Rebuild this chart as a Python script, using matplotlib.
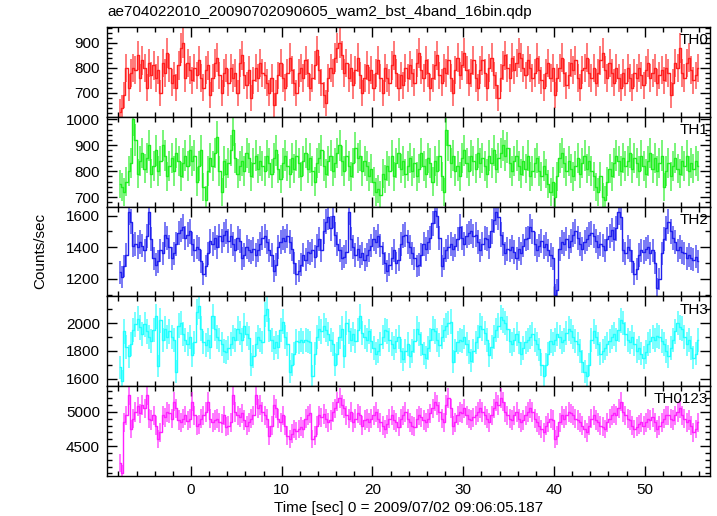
import numpy as np
import matplotlib
matplotlib.use('Agg')
import matplotlib.pyplot as plt
from matplotlib.ticker import MultipleLocator

plt.rcParams['font.family'] = ['Liberation Sans', 'DejaVu Sans']
plt.rcParams['font.size'] = 11

title = 'ae704022010_20090702090605_wam2_bst_4band_16bin.qdp'
xlabel = 'Time [sec] 0 = 2009/07/02 09:06:05.187'
t_start = -7.875   # centre of first bin (s)
bin_width = 0.25   # s

# count rates (counts/sec), 0.25 s bins
th0 = [
    625, 640, 690, 800, 720, 780, 800, 790, 850, 760, 830, 800, 720, 820, 770, 810,
    760, 790, 700, 820, 780, 860, 800, 740, 770, 720, 810, 880, 900, 760, 820, 790,
    750, 800, 770, 830, 760, 720, 790, 810, 690, 760, 820, 840, 770, 700, 780, 800,
    740, 800, 760, 780, 700, 820, 850, 770, 730, 790, 680, 750, 800, 760, 820, 780,
    770, 740, 700, 760, 650, 700, 770, 820, 760, 720, 780, 840, 790, 740, 700, 780,
    800, 760, 830, 780, 720, 760, 810, 870, 790, 740, 690, 660, 760, 800, 780, 840,
    880, 900, 850, 780, 820, 760, 800, 730, 790, 840, 770, 700, 760, 810, 750, 790,
    720, 780, 830, 760, 700, 800, 760, 740, 810, 850, 780, 720, 770, 730, 800, 760,
    810, 780, 740, 820, 860, 790, 760, 830, 780, 720, 760, 810, 850, 770, 740, 800,
    780, 830, 760, 700, 790, 840, 770, 810, 860, 790, 740, 780, 830, 760, 720, 790,
    830, 780, 720, 800, 840, 770, 730, 680, 760, 810, 850, 800, 760, 840, 790, 820,
    860, 840, 800, 770, 830, 800, 760, 780, 840, 790, 750, 720, 780, 820, 760, 800,
    690, 760, 800, 840, 780, 730, 770, 820, 790, 830, 760, 720, 790, 800, 840, 780,
    760, 800, 740, 780, 830, 860, 790, 760, 820, 780, 740, 800, 760, 720, 780, 740,
    800, 760, 720, 780, 760, 800, 770, 730, 790, 820, 760, 780, 800, 740, 770, 790,
    750, 800, 780, 690, 740, 820, 800, 880, 780, 760, 820, 840, 790, 750, 770, 800,
]
th1 = [
    750, 740, 720, 760, 800, 830, 1000, 920, 790, 840, 870, 810, 850, 900, 790, 820,
    880, 800, 840, 900, 860, 780, 820, 850, 800, 870, 840, 780, 830, 860, 820, 880,
    840, 860, 760, 820, 880, 740, 690, 800, 850, 820, 870, 930, 800, 720, 840, 790,
    830, 880, 960, 850, 790, 820, 840, 800, 870, 850, 780, 830, 860, 810, 840, 820,
    800, 860, 830, 790, 850, 880, 810, 770, 830, 860, 820, 790, 850, 810, 860, 830,
    780, 840, 870, 810, 850, 800, 760, 830, 850, 880, 820, 790, 840, 860, 800, 830,
    870, 900, 840, 800, 860, 820, 780, 830, 890, 850, 860, 800, 840, 820, 780, 810,
    760, 720, 730, 710, 790, 770, 820, 800, 860, 780, 830, 870, 810, 840, 790, 820,
    850, 800, 830, 780, 810, 870, 820, 790, 850, 830, 760, 840, 800, 860, 780, 720,
    960, 900, 830, 860, 800, 820, 780, 850, 880, 830, 800, 860, 840, 810, 870, 830,
    850, 820, 790, 860, 830, 880, 810, 850, 870, 900, 860, 890, 830, 800, 840, 860,
    820, 790, 840, 810, 860, 780, 800, 830, 850, 800, 780, 820, 790, 750, 720, 760,
    700, 780, 850, 870, 830, 800, 840, 810, 780, 820, 850, 790, 830, 860, 810, 840,
    800, 780, 740, 720, 780, 700, 690, 760, 810, 780, 830, 860, 840, 800, 850, 820,
    840, 870, 810, 850, 830, 800, 860, 820, 790, 840, 870, 810, 850, 800, 830, 860,
    740, 800, 830, 780, 820, 850, 810, 790, 840, 820, 860, 800, 830, 810, 840, 820,
]
th2 = [
    1240, 1210, 1280, 1350, 1620, 1560, 1410, 1420, 1400, 1430, 1410, 1380, 1470, 1620, 1450, 1330,
    1290, 1310, 1380, 1360, 1480, 1460, 1400, 1330, 1360, 1420, 1490, 1510, 1530, 1460, 1480, 1500,
    1420, 1380, 1400, 1390, 1310, 1230, 1280, 1360, 1440, 1420, 1460, 1400, 1470, 1440, 1480, 1500,
    1440, 1470, 1420, 1380, 1460, 1440, 1330, 1350, 1400, 1380, 1370, 1390, 1350, 1380, 1420, 1460,
    1470, 1430, 1380, 1350, 1250, 1290, 1400, 1430, 1460, 1440, 1470, 1430, 1390, 1300, 1230, 1250,
    1290, 1350, 1320, 1370, 1360, 1380, 1340, 1410, 1450, 1380, 1500, 1560, 1590, 1520, 1600, 1480,
    1420, 1380, 1330, 1340, 1370, 1620, 1450, 1400, 1350, 1390, 1340, 1360, 1320, 1350, 1380, 1410,
    1450, 1430, 1470, 1410, 1360, 1300, 1250, 1290, 1330, 1380, 1300, 1320, 1420, 1470, 1480, 1430,
    1400, 1360, 1330, 1280, 1290, 1350, 1420, 1390, 1430, 1460, 1550, 1630, 1600, 1460, 1280, 1330,
    1380, 1400, 1420, 1390, 1410, 1450, 1530, 1460, 1420, 1470, 1490, 1500, 1470, 1480, 1430, 1380,
    1420, 1460, 1450, 1400, 1500, 1570, 1620, 1590, 1480, 1420, 1360, 1390, 1380, 1400, 1370, 1330,
    1390, 1360, 1410, 1450, 1460, 1530, 1500, 1420, 1380, 1410, 1440, 1400, 1420, 1380, 1350, 1330,
    1100, 1130, 1390, 1430, 1420, 1450, 1400, 1440, 1480, 1500, 1460, 1420, 1390, 1430, 1450, 1480,
    1490, 1470, 1440, 1400, 1420, 1410, 1380, 1450, 1470, 1510, 1450, 1520, 1620, 1590, 1380, 1360,
    1400, 1380, 1310, 1230, 1260, 1350, 1380, 1370, 1390, 1400, 1360, 1380, 1300, 1140, 1200, 1360,
    1450, 1520, 1560, 1500, 1460, 1430, 1380, 1400, 1370, 1360, 1330, 1350, 1330, 1320, 1340, 1310,
]
th3 = [
    1680, 1580, 1940, 1830, 1760, 1850, 1950, 1990, 2030, 1970, 1920, 1990, 1940, 1900, 1870, 1950,
    2050, 1690, 2020, 1880, 1960, 1900, 1940, 1900, 1880, 1650, 1980, 2000, 1920, 1880, 1850, 1900,
    1770, 1860, 2080, 2120, 1960, 1860, 1840, 1880, 1830, 2050, 1960, 1900, 1880, 1850, 1800, 1790,
    1820, 1850, 1900, 1880, 1960, 1930, 1880, 1980, 1920, 1890, 1700, 1760, 1850, 1900, 1880, 1860,
    2060, 2100, 1950, 1880, 1820, 1860, 1830, 1950, 2010, 1900, 1850, 1650, 1700, 1780, 1870, 1860,
    1880, 1860, 1880, 1870, 1860, 1620, 1780, 1900, 1960, 1940, 1980, 1950, 1920, 1880, 1850, 1700,
    1780, 1900, 1960, 1760, 2000, 1940, 1880, 1920, 1870, 1950, 2050, 1930, 1900, 1880, 1940, 1870,
    1820, 1780, 1800, 1850, 1900, 1950, 1940, 1880, 1850, 1820, 1870, 1900, 1800, 1740, 1800, 1850,
    1760, 1800, 1870, 1960, 1920, 1850, 1780, 1750, 1820, 1880, 1960, 1940, 1880, 1840, 1900, 1950,
    1980, 2000, 2010, 1720, 1800, 1860, 1880, 1870, 1900, 1850, 1790, 1730, 1800, 1860, 1900, 1980,
    1960, 1930, 1880, 1770, 1830, 1900, 1950, 1980, 2040, 2020, 2000, 1960, 1870, 1850, 1880, 1920,
    1860, 1780, 1820, 1860, 1880, 1900, 1920, 1880, 1850, 1810, 1700, 1620, 1700, 1780, 1870, 1850,
    1880, 1920, 1900, 1860, 1880, 1930, 1960, 1940, 1900, 1870, 1850, 1800, 1720, 1650, 1620, 1700,
    1880, 1940, 1900, 1850, 1780, 1800, 1820, 1850, 1870, 1900, 1920, 1880, 1950, 2020, 2000, 1920,
    1880, 1860, 1900, 1850, 1800, 1820, 1780, 1750, 1790, 1850, 1870, 1900, 1880, 1910, 1900, 1870,
    1850, 1800, 1760, 1820, 1880, 1940, 2000, 1970, 1960, 1900, 1850, 1880, 1820, 1750, 1780, 1880,
]
th0123 = [
    4250, 4100, 4850, 4950, 5240, 4750, 4900, 5000, 5080, 4980, 5100, 5050, 5250, 4900, 4880, 4950,
    4800, 4600, 4700, 4950, 4920, 5000, 4980, 4900, 5150, 5050, 4880, 4850, 4900, 4950, 4870, 4900,
    5150, 4950, 4800, 4820, 4900, 4950, 5000, 5150, 4900, 4850, 4880, 4900, 4850, 4830, 4950, 4780,
    4800, 4850, 5250, 5000, 4950, 4920, 4980, 4880, 4800, 4850, 4900, 4950, 5250, 5050, 5100, 5000,
    4950, 4900, 4650, 4800, 5100, 5050, 4900, 4850, 4950, 4800, 4650, 4600, 4680, 4750, 4720, 4750,
    4780, 4750, 4900, 4950, 4980, 4600, 4650, 4800, 4950, 4920, 4970, 4900, 4850, 4880, 5000, 5050,
    5150, 5200, 5100, 5050, 4950, 4900, 5000, 4850, 4900, 4980, 4950, 4800, 4880, 4900, 4850, 4900,
    4950, 5000, 4900, 4850, 4800, 4750, 4820, 4900, 4950, 4880, 4850, 4780, 4900, 4950, 5000, 4900,
    4850, 4800, 4780, 4900, 4950, 4920, 4880, 4850, 4900, 4980, 5050, 5150, 5100, 5000, 4900, 4850,
    5100, 5200, 5050, 4800, 4850, 4950, 5000, 4980, 5050, 4950, 4900, 4880, 4920, 4950, 5000, 5050,
    5000, 4950, 4900, 4850, 4950, 5050, 5150, 5100, 5200, 5150, 5000, 4950, 4900, 4880, 4950, 5000,
    4900, 4850, 4880, 4950, 5000, 5050, 5000, 4900, 4850, 4800, 4750, 4700, 4800, 4850, 4900, 4880,
    4600, 4650, 4850, 4950, 4900, 4950, 5000, 4980, 4950, 4900, 4880, 4850, 4800, 4750, 4700, 4800,
    4900, 4950, 4880, 4850, 4800, 4780, 4750, 4850, 4900, 4950, 4980, 4950, 5050, 5150, 5000, 4950,
    4900, 4880, 4800, 4750, 4780, 4820, 4850, 4800, 4850, 4900, 4880, 4920, 4850, 4750, 4800, 4850,
    4900, 4950, 4950, 4900, 4880, 4950, 5000, 5050, 4950, 4900, 4850, 4880, 4800, 4700, 4750, 4850,
]

names = ['TH0', 'TH1', 'TH2', 'TH3', 'TH0123']
series = [th0, th1, th2, th3, th0123]
colors = ['#ff2020', '#20ee20', '#2020ee', '#20ffff', '#ff20ff']
ylims = [(604, 964), (664, 1009), (1088, 1657), (1545, 2192), (4062, 5375)]
ymajor = [100, 100, 200, 200, 500]
yminor = [20, 20, 100, 100, 100]

W, H = 717, 516
fig = plt.figure(figsize=(W / 100, H / 100), dpi=100)
left, right = 107, 710
top, ph = 27, 89.8

for k in range(5):
    y0 = top + ph * (k + 1)
    ax = fig.add_axes([left / W, 1 - y0 / H, (right - left) / W, ph / H])
    rate = np.array(series[k], dtype=float)
    t = t_start + bin_width * np.arange(len(rate))
    err = np.sqrt(rate / bin_width)  # Poisson error for the bin
    ax.errorbar(t, rate, yerr=err, fmt='none', ecolor=colors[k], alpha=0.6,
                elinewidth=1.4, capsize=0)
    ax.step(t, rate, where='mid', color=colors[k], lw=1.0)
    ax.set_xlim(-9.26, 57.2)
    ax.set_ylim(*ylims[k])
    ax.xaxis.set_major_locator(MultipleLocator(10))
    ax.xaxis.set_minor_locator(MultipleLocator(2))
    ax.yaxis.set_major_locator(MultipleLocator(ymajor[k]))
    ax.yaxis.set_minor_locator(MultipleLocator(yminor[k]))
    ax.tick_params(which='both', direction='in', top=True, right=True,
                   labelsize=11, width=1.0)
    ax.tick_params(which='major', length=7, pad=5)
    ax.tick_params(which='minor', length=3.5)
    for s in ax.spines.values():
        s.set_linewidth(1.0)
    if k < 4:
        ax.tick_params(labelbottom=False)
    else:
        ax.set_xlabel(xlabel, fontsize=11, labelpad=3)
    ax.text(0.997, 0.93, names[k], transform=ax.transAxes, ha='right',
            va='top', fontsize=11)

fig.text(left / W, 1 - 12 / H, title, ha='left', va='center', fontsize=11)
fig.text(40 / W, 1 - 251 / H, 'Counts/sec', rotation=90, ha='center',
         va='center', fontsize=11)

fig.savefig('out.png', dpi=100)
